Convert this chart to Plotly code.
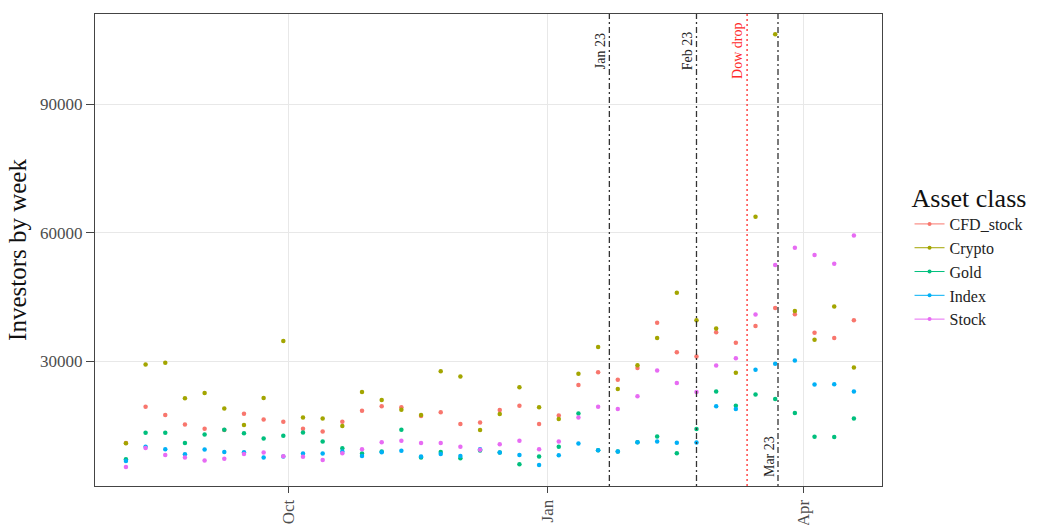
import plotly.graph_objects as go

# ---- data (weekly, week starting Sunday) ----
weeks = [
    "2019-08-04", "2019-08-11", "2019-08-18", "2019-08-25", "2019-09-01", "2019-09-08",
    "2019-09-15", "2019-09-22", "2019-09-29", "2019-10-06", "2019-10-13", "2019-10-20",
    "2019-10-27", "2019-11-03", "2019-11-10", "2019-11-17", "2019-11-24", "2019-12-01",
    "2019-12-08", "2019-12-15", "2019-12-22", "2019-12-29", "2020-01-05", "2020-01-12",
    "2020-01-19", "2020-01-26", "2020-02-02", "2020-02-09", "2020-02-16", "2020-02-23",
    "2020-03-01", "2020-03-08", "2020-03-15", "2020-03-22", "2020-03-29", "2020-04-05",
    "2020-04-12", "2020-04-19",
]

cfd_stock = [11000, 19450, 17500, 15300, 14300, 14000, 17800, 16480, 15940, 14300,
             13670, 15940, 18520, 19530, 19300, 17300, 18130, 15400, 15780, 18680,
             19690, 15400, 17400, 24540, 27500, 25710, 28500, 39070, 32180, 31170,
             36800, 34380, 38280, 42500, 41000, 36730, 35470, 39610]
crypto = [10900, 29300, 29700, 21400, 22660, 19000, 15160, 21500, 34760, 16950,
          16720, 14930, 22900, 21020, 18750, 17500, 27740, 26490, 13990, 17740,
          23980, 19300, 16600, 27120, 33360, 23600, 29150, 35470, 46020, 39600,
          37700, 27350, 63800, 106400, 41800, 35090, 42820, 28600]
gold = [7200, 13360, 13360, 10950, 12960, 14060, 13280, 12030, 12660, 13440,
        11330, 9770, 8500, 9000, 14060, 7580, 8900, 7430, 9200, 8740,
        6020, 7800, 10080, 17880, 9300, 8980, 11170, 12500, 8600, 14230,
        22970, 19690, 22270, 21260, 17980, 12420, 12350, 16720]
index = [6800, 10080, 9540, 8370, 9450, 8900, 8800, 7580, 7800, 8500,
         8500, 9000, 7970, 8830, 9140, 7800, 8400, 7970, 9540, 8740,
         8200, 5860, 8130, 10850, 9300, 8980, 11170, 11330, 11020, 11090,
         19530, 18900, 28050, 29460, 30240, 24610, 24690, 22970]
stock = [5400, 9800, 8200, 7580, 6870, 7300, 8400, 8740, 7900, 7740,
         7030, 8600, 9540, 11170, 11490, 10950, 10950, 10080, 9400, 10710,
         11490, 9540, 11330, 16950, 19460, 18900, 21870, 27900, 25000, 22900,
         29070, 30780, 40950, 52500, 56560, 54850, 52810, 59380]

series_names = ["CFD_stock", "Crypto", "Gold", "Index", "Stock"]
series_values = [cfd_stock, crypto, gold, index, stock]
series_colors = ["#F8766D", "#A3A500", "#00BF7D", "#00B0F6", "#E76BF3"]

event_dates = ["2020-01-23", "2020-02-23", "2020-03-12", "2020-03-23"]
event_labels = ["Jan 23", "Feb 23", "Dow drop", "Mar 23"]
event_colors = ["#333333", "#333333", "#FF2a2a", "#333333"]
event_text_colors = ["#222222", "#222222", "#FF2a2a", "#222222"]
event_dash = ["2px,3px,6px,3px", "2px,3px,6px,3px", "2px,3px", "2px,3px,6px,3px"]
event_label_y = [102500, 102500, 102500, 7700]

x_ticks = ["2019-10-01", "2020-01-01", "2020-04-01"]
x_ticklabels = ["Oct", "Jan", "Apr"]
y_ticks = [30000, 60000, 90000]

FONT = "Liberation Serif"

fig = go.Figure()
for name, vals, col in zip(series_names, series_values, series_colors):
    fig.add_trace(go.Scatter(
        x=weeks, y=vals, mode="markers", name=name, showlegend=False,
        marker=dict(color=col, size=4.5),
    ))
    # legend glyph (point + line, like ggplot)
    fig.add_trace(go.Scatter(
        x=[None], y=[None], mode="lines+markers", name=name,
        marker=dict(color=col, size=4), line=dict(color=col, width=1),
    ))

for d, lab, col, tcol, dash, ly in zip(event_dates, event_labels, event_colors,
                                       event_text_colors, event_dash, event_label_y):
    fig.add_shape(type="line", xref="x", yref="paper", x0=d, x1=d, y0=0, y1=1,
                  line=dict(color=col, width=1.3, dash=dash), layer="above")
    fig.add_annotation(x=d, y=ly, xref="x", yref="y", text=lab, showarrow=False,
                       textangle=-90, xshift=-9,
                       font=dict(family=FONT, size=14, color=tcol))

fig.update_layout(
    width=1047, height=525,
    margin=dict(l=95, r=165, t=14, b=39),
    paper_bgcolor="white", plot_bgcolor="white",
    font=dict(family=FONT),
    legend=dict(
        title=dict(text="Asset class", font=dict(family=FONT, size=26, color="#111111")),
        font=dict(family=FONT, size=16, color="#222222"),
        x=1.035, xanchor="left", y=0.49, yanchor="middle",
        tracegroupgap=0,
    ),
)
fig.update_xaxes(
    type="date", range=["2019-07-24", "2020-04-29"], automargin=False,
    tickvals=x_ticks, ticktext=x_ticklabels, tickangle=-90,
    tickfont=dict(family=FONT, size=17, color="#4D4D4D"),
    showgrid=True, gridcolor="#E8E8E8", gridwidth=1,
    ticks="outside", ticklen=6, tickcolor="#444444",
    showline=True, linecolor="#444444", linewidth=1, mirror=True, zeroline=False,
)
fig.update_yaxes(
    range=[940, 111100], tickvals=y_ticks, tickformat="d", automargin=False,
    tickfont=dict(family=FONT, size=17, color="#4D4D4D"),
    title=dict(text="Investors by week", font=dict(family=FONT, size=25, color="#111111"), standoff=6),
    showgrid=True, gridcolor="#E8E8E8", gridwidth=1,
    ticks="outside", ticklen=8, tickcolor="#444444",
    showline=True, linecolor="#444444", linewidth=1, mirror=True, zeroline=False,
)

fig.write_html("out.html", config={"displayModeBar": False},
               post_script="document.body.style.margin='0';")
